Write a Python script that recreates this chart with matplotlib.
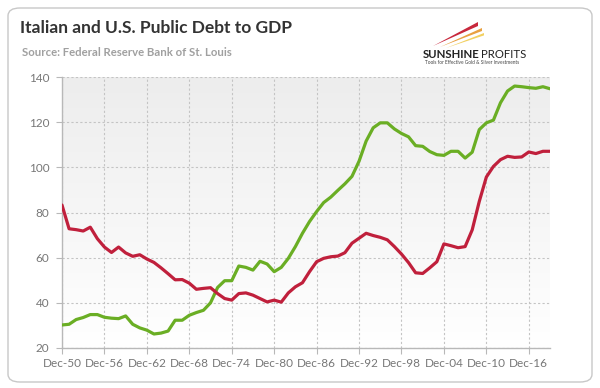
import matplotlib
matplotlib.use("Agg")
import matplotlib.pyplot as plt
from matplotlib.patches import FancyBboxPatch, Polygon
import numpy as np

# ---------- data ----------
years = list(range(1950, 2020))

us_debt = [83.3, 72.8, 72.4, 71.8, 73.5, 68.4, 64.7, 62.3, 64.7, 62.1,
           60.6, 61.3, 59.4, 57.9, 55.5, 52.9, 50.2, 50.3, 48.7, 46.0,
           46.4, 46.7, 44.1, 41.9, 41.2, 44.1, 44.4, 43.4, 41.9, 40.4,
           41.2, 40.3, 44.4, 47.1, 48.9, 53.8, 58.2, 59.7, 60.4, 60.7,
           62.2, 66.4, 68.6, 70.8, 69.8, 69.0, 67.9, 64.9, 61.6, 57.8,
           53.3, 53.0, 55.5, 58.2, 66.1, 65.3, 64.4, 64.9, 72.3, 84.9,
           95.7, 100.4, 103.4, 104.9, 104.4, 104.6, 106.8, 106.1, 107.1, 107.1]

italy_debt = [30.2, 30.5, 32.6, 33.5, 34.8, 34.8, 33.6, 33.2, 33.0, 34.2,
              30.5, 28.9, 27.9, 26.2, 26.6, 27.5, 32.3, 32.3, 34.5, 35.7,
              36.7, 40.0, 46.8, 49.8, 49.8, 56.3, 55.7, 54.5, 58.4, 57.2,
              53.8, 55.7, 59.7, 64.9, 70.8, 76.0, 80.4, 84.4, 86.8, 89.8,
              92.7, 96.0, 102.7, 111.6, 117.5, 119.7, 119.7, 117.0, 115.0, 113.5,
              109.6, 109.3, 107.0, 105.6, 105.3, 107.1, 107.1, 104.1, 106.7, 116.7,
              119.7, 120.9, 128.6, 133.8, 136.0, 135.7, 135.3, 135.0, 135.7, 134.8]

tick_years = list(range(1950, 2020, 6))
tick_labels = ["Dec-%02d" % (y % 100) for y in tick_years]
y_ticks = [20, 40, 60, 80, 100, 120, 140]

RED = "#c0203c"
GREEN = "#6aae24"
FONT = "Lato"

fig = plt.figure(figsize=(6.0, 3.88), dpi=100)
fig.patch.set_facecolor("white")

# outer rounded frame
frame = FancyBboxPatch((8 / 600, 6 / 388), 584 / 600, 374 / 388,
                       boxstyle="round,pad=0,rounding_size=0.02",
                       transform=fig.transFigure, facecolor="white",
                       edgecolor="#c8c8c8", linewidth=1.0, zorder=-10)
fig.patches.append(frame)

# titles
fig.text(20 / 600, 1 - 28 / 388, "Italian and U.S. Public Debt to GDP",
         fontsize=12.5, fontweight="bold", color="#333333", family=FONT,
         va="center", ha="left")
fig.text(22 / 600, 1 - 52 / 388, "Source: Federal Reserve Bank of St. Louis",
         fontsize=8.2, fontweight="bold", color="#a0a0a0", family=FONT,
         va="center", ha="left")

# logo streaks (pixel coords -> figure fraction)
def px(x, y):
    return (x / 600, 1 - y / 388)

for (x0, y0, x1, y1, w, c) in [(433, 46, 478, 22, 4.0, "#c8283c"),
                               (440, 47, 482, 28, 3.0, "#e8a040"),
                               (446, 48, 484, 33, 2.4, "#f2d060")]:
    poly = Polygon([px(x0, y0), px(x1, y1), px(x1, y1 + w)], closed=True,
                   transform=fig.transFigure, facecolor=c, edgecolor="none")
    fig.patches.append(poly)
fig.text(423 / 600, 1 - 54 / 388, "SUNSHINE", fontsize=8.2, fontweight="bold",
         color="#222222", family=FONT, va="center", ha="left")
fig.text(481 / 600, 1 - 54 / 388, "PROFITS", fontsize=8.2,
         color="#222222", family=FONT, va="center", ha="left")
fig.text(472 / 600, 1 - 63 / 388, "Tools for Effective Gold & Silver Investments",
         fontsize=3.4, color="#444444", family=FONT, va="center", ha="center")

ax = fig.add_axes([62 / 600, 1 - 348 / 388, 488 / 600, 271 / 388])
ax.set_facecolor("none")

# gradient background
grad = np.linspace(0, 1, 256).reshape(-1, 1)
ax.imshow(grad, extent=[1950, 2019, 20, 140], aspect="auto", origin="lower",
          cmap=matplotlib.colors.LinearSegmentedColormap.from_list(
              "bg", ["#ffffff", "#ededed"]), zorder=0)

ax.plot(years, italy_debt, color=GREEN, lw=2.3, zorder=3, solid_capstyle="round")
ax.plot(years, us_debt, color=RED, lw=2.3, zorder=3, solid_capstyle="round")

ax.set_xlim(1950, 2019)
ax.set_ylim(20, 140)
ax.set_xticks(tick_years)
ax.set_xticklabels(tick_labels)
ax.set_yticks(y_ticks)

ax.grid(True, color="#c4c4c4", linestyle=(0, (2, 2)), linewidth=0.8, zorder=1)
for s in ["top", "right"]:
    ax.spines[s].set_visible(False)
for s in ["left", "bottom"]:
    ax.spines[s].set_color("#b8b8b8")
    ax.spines[s].set_linewidth(1.0)
ax.tick_params(axis="both", colors="#b8b8b8", labelcolor="#777777",
               labelsize=8.5, length=4, width=0.8)
ax.tick_params(axis="y", pad=5)
ax.tick_params(axis="x", pad=3)
for lab in ax.get_xticklabels() + ax.get_yticklabels():
    lab.set_family(FONT)

fig.savefig("out.png", dpi=100)
